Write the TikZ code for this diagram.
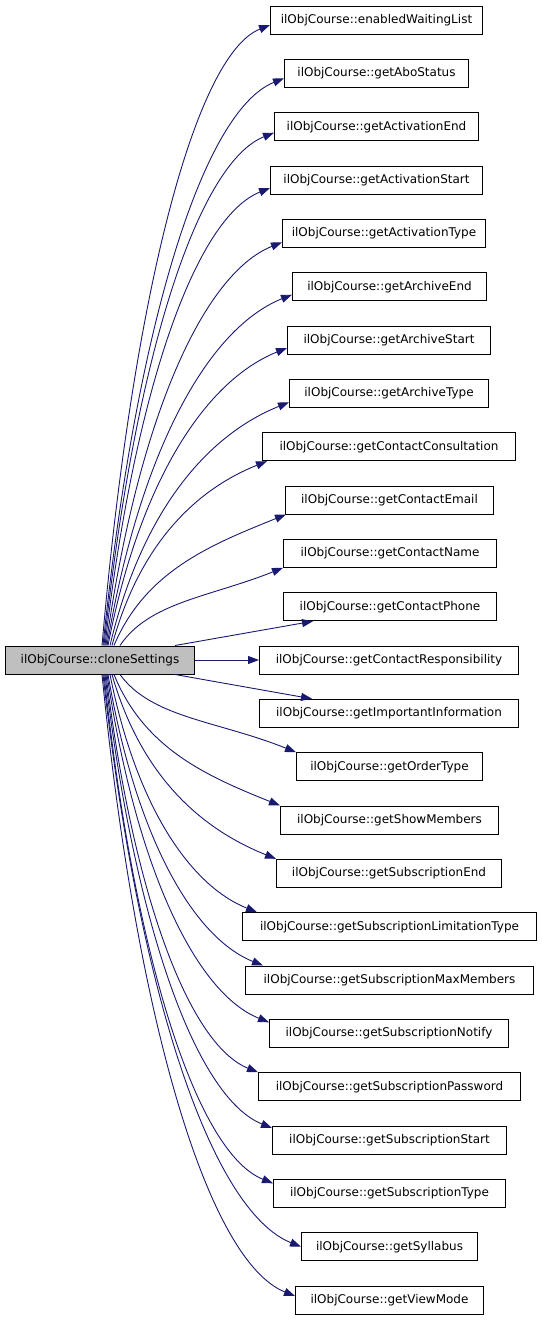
\documentclass[tikz,border=0pt]{standalone}
\usepackage{fontspec}
\setmainfont{DejaVu Sans}
\usetikzlibrary{arrows.meta,calc}
\definecolor{edgeblue}{RGB}{25,25,112}
\definecolor{rootgray}{RGB}{191,191,191}
\newcommand{\upedge}[2]{\draw[edge] let \p1=(#1), \p2=(#2) in (\p1) .. controls ({\x1+0.18*(\x2-\x1)},{\y1+0.56*(\y2-\y1)}) and ({\x2-0.45*(\x2-\x1)},{\y2-0.18*(\x2-\x1)}) .. (\p2);}
\newcommand{\downedge}[2]{\draw[edge] let \p1=(#1), \p2=(#2) in (\p1) .. controls ({\x1+0.18*(\x2-\x1)},{\y1+0.56*(\y2-\y1)}) and ({\x2-0.45*(\x2-\x1)},{\y2+0.18*(\x2-\x1)}) .. (\p2);}
\begin{document}
\begin{tikzpicture}[x=1pt,y=-1pt,
  box/.style={draw=black, line width=1pt, minimum height=28pt, inner sep=0pt, anchor=west, font=\fontsize{12}{14}\selectfont},
  edge/.style={draw=edgeblue, line width=0.9pt, -{Triangle[length=11pt,width=8pt]}}]
\useasboundingbox (0,0) rectangle (541,1320);
\node[box, fill=rootgray, minimum width=189pt] (root) at (5,660) {ilObjCourse::cloneSettings};
\node[box, minimum width=212pt] (n0) at (270,20) {ilObjCourse::enabledWaitingList};
\node[box, minimum width=184pt] (n1) at (284,73.3) {ilObjCourse::getAboStatus};
\node[box, minimum width=204pt] (n2) at (274,126.7) {ilObjCourse::getActivationEnd};
\node[box, minimum width=212pt] (n3) at (270,180) {ilObjCourse::getActivationStart};
\node[box, minimum width=203pt] (n4) at (282,233.3) {ilObjCourse::getActivationType};
\node[box, minimum width=194pt] (n5) at (292,286.7) {ilObjCourse::getArchiveEnd};
\node[box, minimum width=203pt] (n6) at (287,340) {ilObjCourse::getArchiveStart};
\node[box, minimum width=199pt] (n7) at (289,393.3) {ilObjCourse::getArchiveType};
\node[box, minimum width=253pt] (n8) at (262,446.7) {ilObjCourse::getContactConsultation};
\node[box, minimum width=208pt] (n9) at (285,500) {ilObjCourse::getContactEmail};
\node[box, minimum width=213pt] (n10) at (283,553.3) {ilObjCourse::getContactName};
\node[box, minimum width=213pt] (n11) at (283,606.7) {ilObjCourse::getContactPhone};
\node[box, minimum width=259pt] (n12) at (259,660) {ilObjCourse::getContactResponsibility};
\node[box, minimum width=259pt] (n13) at (259,713.3) {ilObjCourse::getImportantInformation};
\node[box, minimum width=186pt] (n14) at (296,766.7) {ilObjCourse::getOrderType};
\node[box, minimum width=218pt] (n15) at (280,820) {ilObjCourse::getShowMembers};
\node[box, minimum width=225pt] (n16) at (276,873.3) {ilObjCourse::getSubscriptionEnd};
\node[box, minimum width=294pt] (n17) at (242,926.7) {ilObjCourse::getSubscriptionLimitationType};
\node[box, minimum width=288pt] (n18) at (245,980) {ilObjCourse::getSubscriptionMaxMembers};
\node[box, minimum width=239pt] (n19) at (269,1033.3) {ilObjCourse::getSubscriptionNotify};
\node[box, minimum width=262pt] (n20) at (258,1086.7) {ilObjCourse::getSubscriptionPassword};
\node[box, minimum width=234pt] (n21) at (272,1140) {ilObjCourse::getSubscriptionStart};
\node[box, minimum width=232pt] (n22) at (273,1193.3) {ilObjCourse::getSubscriptionType};
\node[box, minimum width=176pt] (n23) at (301,1246.7) {ilObjCourse::getSyllabus};
\node[box, minimum width=188pt] (n24) at (295,1300) {ilObjCourse::getViewMode};
% upper edges
\upedge{$(root.north west)+(97,0)$}{$(n0.west)+(0,5)$}
\upedge{$(root.north west)+(98,0)$}{$(n1.west)+(0,5)$}
\upedge{$(root.north west)+(99,0)$}{$(n2.west)+(0,6)$}
\upedge{$(root.north west)+(100,0)$}{$(n3.west)+(0,8)$}
\upedge{$(root.north west)+(101,0)$}{$(n4.west)+(0,9)$}
\upedge{$(root.north west)+(102,0)$}{$(n5.west)+(0,8)$}
\upedge{$(root.north west)+(103,0)$}{$(n6.west)+(0,8)$}
\upedge{$(root.north west)+(105,0)$}{$(n7.west)+(0,9)$}
\upedge{$(root.north west)+(107,0)$}{$(n8.south west)+(5,0)$}
\upedge{$(root.north west)+(109,0)$}{$(n9.south west)+(1,0)$}
\upedge{$(root.north west)+(115,0)$}{$(n10.south west)+(0,0)$}
\draw[edge] ($(root.north west)+(170,0)$) -- ($(n11.south west)+(30,0)$);
\draw[edge] (root.east) -- (n12.west);
\draw[edge] ($(root.south west)+(170,0)$) -- ($(n13.north west)+(53,0)$);
% lower edges
\downedge{$(root.south west)+(115,0)$}{n14.north west}
\downedge{$(root.south west)+(109,0)$}{n15.north west}
\downedge{$(root.south west)+(107,0)$}{n16.north west}
\downedge{$(root.south west)+(105,0)$}{$(n17.north west)+(15,0)$}
\downedge{$(root.south west)+(103,0)$}{$(n18.north west)+(18,0)$}
\downedge{$(root.south west)+(102,0)$}{$(n19.west)+(0,-11)$}
\downedge{$(root.south west)+(101,0)$}{n20.north west}
\downedge{$(root.south west)+(100,0)$}{$(n21.west)+(0,-12)$}
\downedge{$(root.south west)+(99,0)$}{$(n22.west)+(0,-10)$}
\downedge{$(root.south west)+(98,0)$}{$(n23.west)+(0,0)$}
\downedge{$(root.south west)+(97,0)$}{$(n24.west)+(0,-4)$}
\end{tikzpicture}
\end{document}
